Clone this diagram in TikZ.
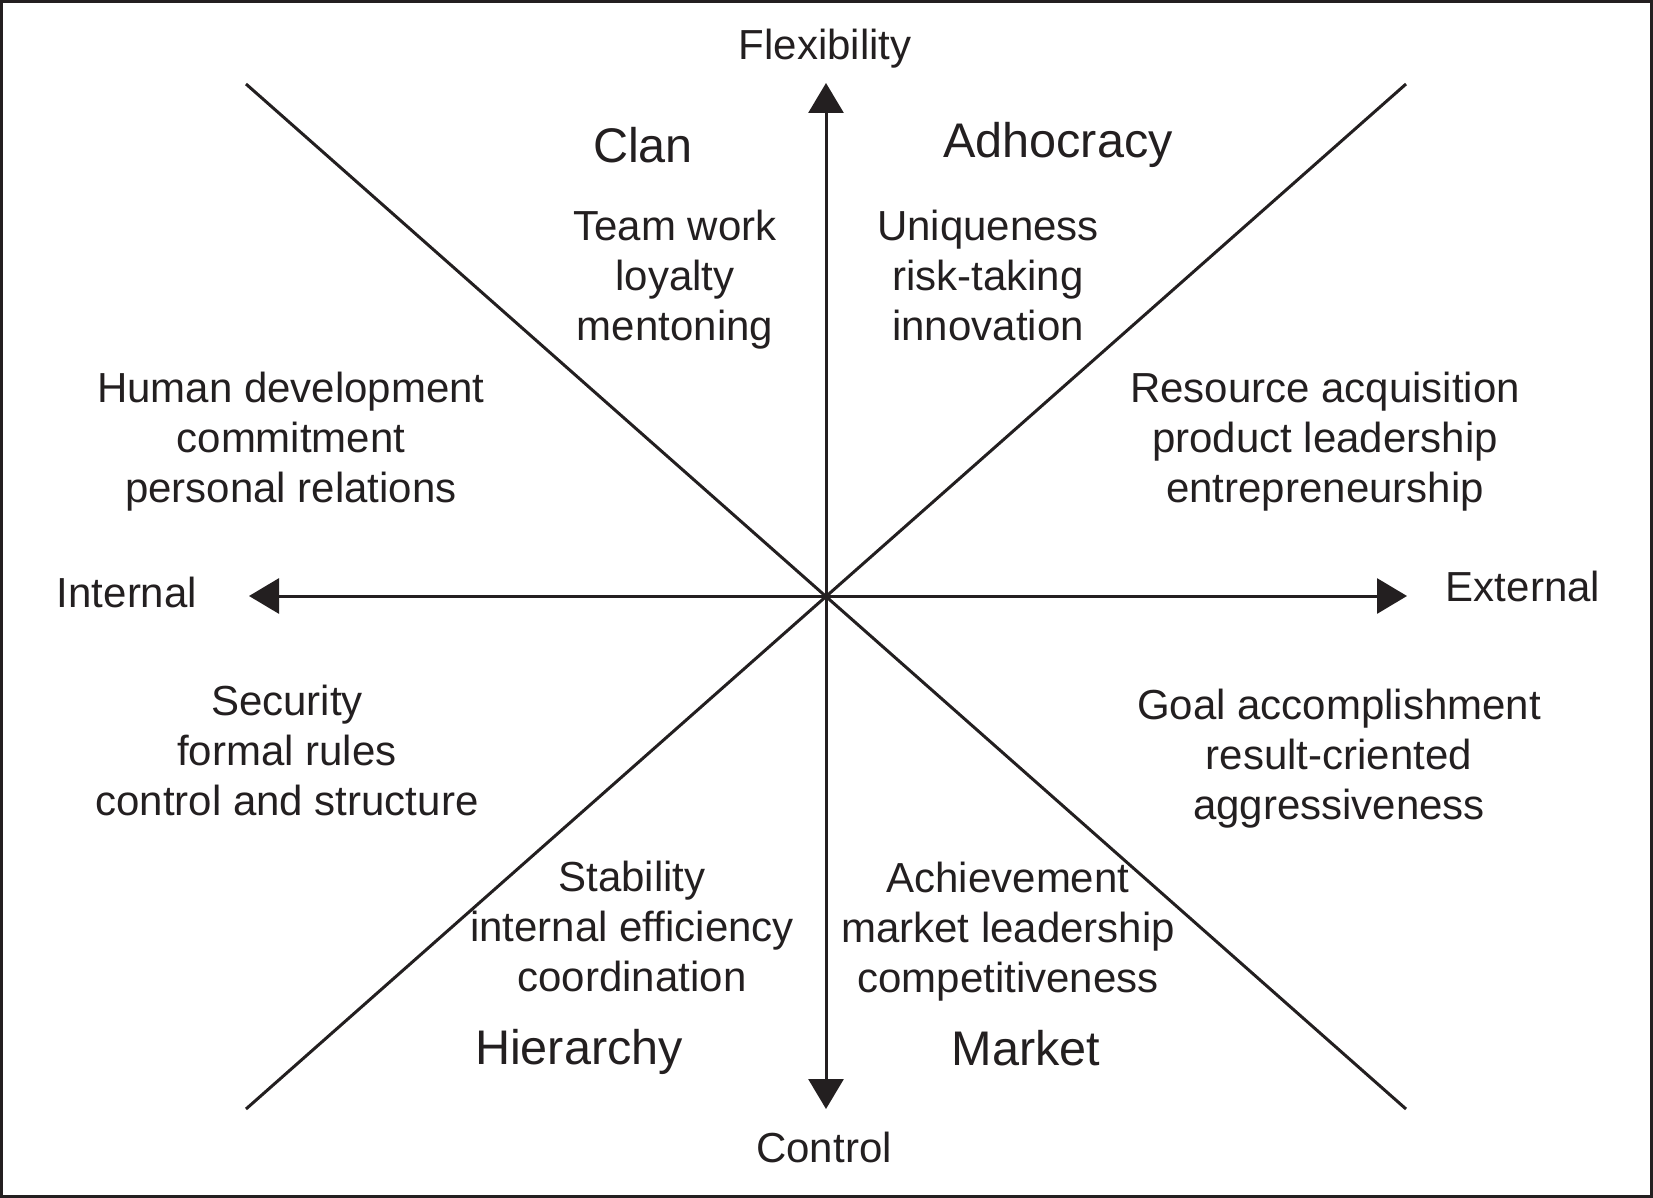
\documentclass[tikz,border=0pt]{standalone}
\usepackage{fontspec}
\setmainfont{Liberation Sans}
\usetikzlibrary{arrows.meta}
\definecolor{ink}{HTML}{231F20}
\begin{document}
\begin{tikzpicture}[x=0.5pt,y=-0.5pt,
  line/.style={draw=ink,line width=1.5pt},
  axis/.style={line,-{Triangle[length=15pt,width=17.5pt]}},
  lbl/.style={text=ink,font=\fontsize{21}{25}\selectfont,align=center,inner sep=0pt},
  ttl/.style={text=ink,font=\fontsize{24.3}{28}\selectfont,align=center,inner sep=0pt}]
\useasboundingbox (0,0) rectangle (1653,1198);
\draw[line] (1.5,1.5) rectangle (1651.5,1196.5);
\coordinate (O) at (826,596);
\coordinate (N) at (826,83);
\coordinate (S) at (826,1109);
\coordinate (W) at (249,596);
\coordinate (E) at (1407,596);
\coordinate (NW) at (246,84);
\coordinate (NE) at (1406,84);
\coordinate (SW) at (246,1109);
\coordinate (SE) at (1406,1109);
\draw[line] (NW) -- (SE);
\draw[line] (NE) -- (SW);
\draw[axis] (O) -- (N);
\draw[axis] (O) -- (S);
\draw[axis] (O) -- (W);
\draw[axis] (O) -- (E);
\node[lbl] (flex) at (825,49) {Flexibility};
\node[lbl] (ctrl) at (824,1147) {Control};
\node[lbl] (int) at (127,592) {Internal};
\node[lbl] (ext) at (1523,586) {External};
\node[ttl] (clan) at (643,145) {Clan};
\node[ttl] (adh) at (1058,145) {Adhocracy};
\node[ttl] (hier) at (579,1052) {Hierarchy};
\node[ttl] (mkt) at (1026,1048) {Market};
\node[lbl] (t1) at (675,280) {Team work\\loyalty\\mentoning};
\node[lbl] (t2) at (988,275) {Uniqueness\\risk-taking\\innovation};
\node[lbl] (t3) at (291,442) {Human development\\commitment\\personal relations};
\node[lbl] (t4) at (1325,442) {Resource acquisition\\product leadership\\entrepreneurship};
\node[lbl] (t5) at (287,750) {Security\\formal rules\\control and structure};
\node[lbl] (t6) at (1339,759) {Goal accomplishment\\result-criented\\aggressiveness};
\node[lbl] (t7) at (632,926) {Stability\\internal efficiency\\coordination};
\node[lbl] (t8) at (1008,932) {Achievement\\market leadership\\competitiveness};
\end{tikzpicture}
\end{document}
